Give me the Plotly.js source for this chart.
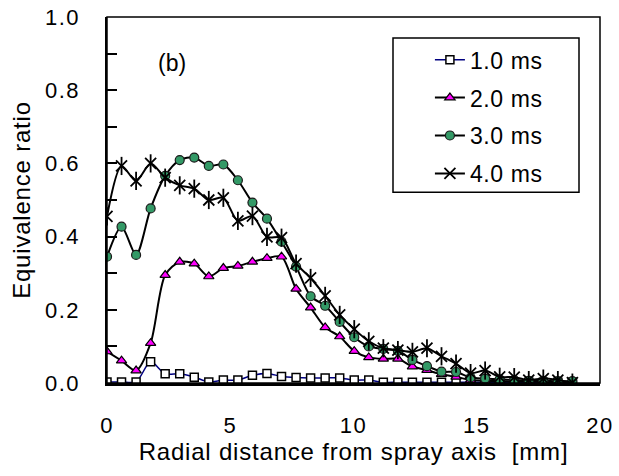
<!DOCTYPE html>
<html><head><meta charset="utf-8">
<script src="https://cdn.plot.ly/plotly-3.0.1.min.js"></script>
<style>
html,body{margin:0;padding:0;background:#fff}#chart{width:619px;height:476px}
#chart .xtitle, #chart .ytitle{letter-spacing:0.8px}
#chart .xtick text, #chart .ytick text{letter-spacing:1.5px}
#chart .legendtext{letter-spacing:0.6px}
</style>
</head><body><div id="chart"></div>
<script>
const radialDistance = [0,0.59,1.18,1.77,2.36,2.95,3.54,4.13,4.72,5.31,5.9,6.49,7.08,7.67,8.26,8.85,9.44,10.03,10.62,11.21,11.8,12.39,12.98,13.57,14.16,14.75,15.34,15.93,16.52,17.11,17.7,18.29,18.88];
const ms1 = [0.003,0.003,0.003,0.058,0.025,0.025,0.016,0.003,0.008,0.008,0.021,0.026,0.018,0.015,0.014,0.014,0.014,0.008,0.008,0.002,0.002,0.002,0.002,0.002,0.002,0.002,0.002,0.002,0.002,0.002,0.002,0.002,0.002];
const ms2 = [0.086,0.061,0.034,0.109,0.295,0.331,0.326,0.291,0.314,0.320,0.331,0.341,0.345,0.257,0.206,0.152,0.127,0.087,0.070,0.066,0.066,0.045,0.035,0.024,0.017,0.008,0.006,0.005,0.004,0.004,0.003,0.003,0.003];
const ms3 = [0.345,0.427,0.350,0.477,0.566,0.609,0.616,0.593,0.597,0.554,0.493,0.449,0.386,0.318,0.237,0.211,0.167,0.125,0.100,0.093,0.088,0.063,0.046,0.031,0.030,0.015,0.012,0.010,0.008,0.006,0.006,0.005,0.005];
const ms4 = [0.455,0.593,0.552,0.600,0.561,0.540,0.531,0.500,0.506,0.443,0.456,0.399,0.397,0.326,0.287,0.238,0.186,0.147,0.114,0.095,0.090,0.085,0.095,0.073,0.053,0.027,0.034,0.017,0.016,0.008,0.012,0.008,0.001];
const seriesNames = ['1.0 ms','2.0 ms','3.0 ms','4.0 ms'];
const yTickVals = [0,0.2,0.4,0.6,0.8,1.0];
const yTickText = ['0.0','0.2','0.4','0.6','0.8','1.0'];
const xTickVals = [0,5,10,15,20];

const FONT = 'Liberation Sans, Arial, sans-serif';
const sm = {shape:'spline', smoothing:0.8};
const traces = [
  {x:radialDistance, y:ms1, name:seriesNames[0], mode:'lines+markers', legendgroup:'a',
   line:Object.assign({color:'#000080', width:1.5}, sm),
   marker:{symbol:'square', size:8, color:'#ffffff', line:{color:'#000000', width:1.5}}},
  {x:radialDistance, y:ms2, name:seriesNames[1], mode:'lines+markers', legendgroup:'b',
   line:Object.assign({color:'#000000', width:2}, sm),
   marker:{symbol:'triangle-up', size:9, color:'#FF00FF', line:{color:'#000000', width:1.2}}},
  {x:radialDistance, y:ms3, name:seriesNames[2], mode:'lines+markers', legendgroup:'c',
   line:Object.assign({color:'#000000', width:2}, sm),
   marker:{symbol:'circle', size:9, color:'#339966', line:{color:'#1a1a1a', width:1.2}}},
  {x:radialDistance, y:ms4, name:seriesNames[3], mode:'lines+markers', legendgroup:'d',
   line:Object.assign({color:'#000000', width:2}, sm),
   marker:{symbol:'x-thin-open', size:11, color:'#000000', line:{color:'#000000', width:1.8}}},
  {x:radialDistance, y:ms4, name:seriesNames[3], mode:'markers', legendgroup:'d', showlegend:false,
   marker:{symbol:'line-ns-open', size:13, color:'#000000', line:{color:'#000000', width:1.8}}}
];

const layout = {
  width:619, height:476,
  margin:{l:107, r:19, t:17, b:93},
  paper_bgcolor:'#ffffff', plot_bgcolor:'#ffffff',
  font:{family:FONT, color:'#000000', size:22},
  showlegend:true,
  legend:{x:0.655, y:0.942, xanchor:'left', yanchor:'top', bgcolor:'rgba(0,0,0,0)',
          borderwidth:0, font:{family:FONT, size:23, color:'#000000'},
          traceorder:'grouped', tracegroupgap:5},
  xaxis:{range:[0,20], tickvals:xTickVals, ticks:'', showgrid:false, zeroline:false,
         showline:true, linecolor:'#000000', linewidth:2.5, ticklabelstandoff:21,
         tickfont:{family:FONT, size:22},
         title:{text:'Radial distance from spray axis \u00a0[mm]', font:{family:FONT, size:24}, standoff:4}},
  yaxis:{range:[0,1], tickvals:yTickVals, ticktext:yTickText, ticks:'inside', ticklen:10, tickwidth:2,
         tickcolor:'#000000', showgrid:false, zeroline:false, showline:true, linecolor:'#000000',
         linewidth:2.5, ticklabelstandoff:20, tickfont:{family:FONT, size:22},
         minor:{dtick:0.1, ticks:'inside', ticklen:10, tickwidth:2, tickcolor:'#000000', showgrid:false},
         title:{text:'Equivalence ratio', font:{family:FONT, size:24}, standoff:12}},
  shapes:[
    {type:'rect', xref:'paper', yref:'paper', x0:0, x1:1, y0:0, y1:1,
     line:{color:'#000000', width:1.5}, layer:'above'},
    {type:'rect', xref:'paper', yref:'paper', x0:(393-107)/493, x1:(579-107)/493,
     y0:(382.5-192)/365.5, y1:(382.5-38)/365.5, fillcolor:'#ffffff',
     line:{color:'#000000', width:1.5}, layer:'above'}
  ],
  annotations:[{xref:'paper', yref:'paper', x:0.132, y:0.874, xanchor:'center', yanchor:'middle',
                text:'(b)', showarrow:false, font:{family:FONT, size:23, color:'#000000'}}]
};
Plotly.newPlot('chart', traces, layout, {displayModeBar:false, staticPlot:true});
</script></body></html>
